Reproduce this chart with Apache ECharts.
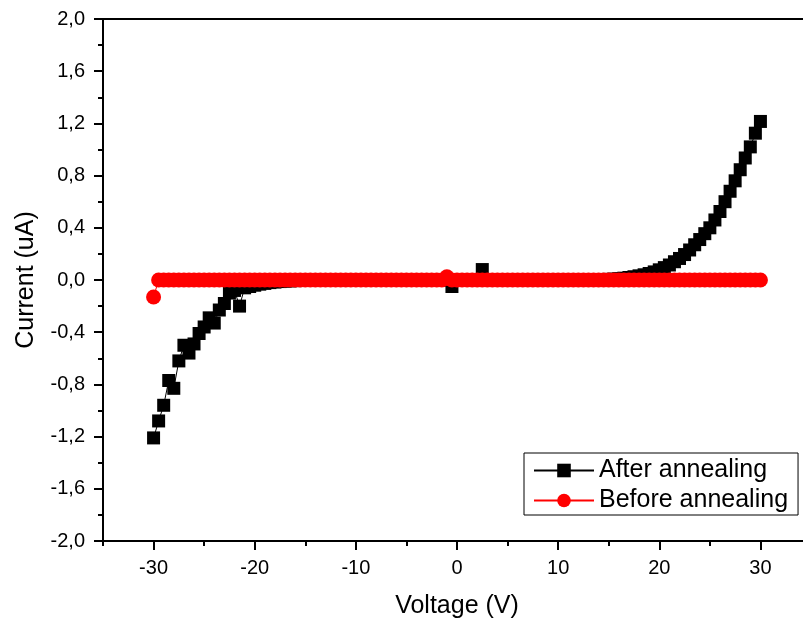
<!DOCTYPE html>
<html>
<head>
<meta charset="utf-8">
<script src="https://cdn.jsdelivr.net/npm/echarts@6/dist/echarts.min.js"></script>
<style>
  html, body { margin: 0; padding: 0; background: #fff; overflow: hidden; }
  #main { width: 811px; height: 627px; }
</style>
</head>
<body>
<div id="main"></div>
<script>
// voltage sweep (V)
const voltage = [
  -30, -29.5, -29, -28.5, -28, -27.5, -27, -26.5, -26, -25.5,
  -25, -24.5, -24, -23.5, -23, -22.5, -22, -21.5, -21, -20.5,
  -20, -19.5, -19, -18.5, -18, -17.5, -17, -16.5, -16, -15.5,
  -15, -14.5, -14, -13.5, -13, -12.5, -12, -11.5, -11, -10.5,
  -10, -9.5, -9, -8.5, -8, -7.5, -7, -6.5, -6, -5.5,
  -5, -4.5, -4, -3.5, -3, -2.5, -2, -1.5, -1, -0.5,
  0, 0.5, 1, 1.5, 2, 2.5, 3, 3.5, 4, 4.5,
  5, 5.5, 6, 6.5, 7, 7.5, 8, 8.5, 9, 9.5,
  10, 10.5, 11, 11.5, 12, 12.5, 13, 13.5, 14, 14.5,
  15, 15.5, 16, 16.5, 17, 17.5, 18, 18.5, 19, 19.5,
  20, 20.5, 21, 21.5, 22, 22.5, 23, 23.5, 24, 24.5,
  25, 25.5, 26, 26.5, 27, 27.5, 28, 28.5, 29, 29.5,
  30
];

// current (uA) after annealing
const afterAnnealing = [
  -1.21, -1.08, -0.96, -0.77, -0.83, -0.62, -0.50, -0.56, -0.49, -0.41,
  -0.36, -0.29, -0.33, -0.23, -0.18, -0.10, -0.08, -0.20, -0.06, -0.05,
  -0.04, -0.032, -0.026, -0.02, -0.016, -0.012, -0.009, -0.007, -0.005, -0.004,
  -0.003, -0.002, -0.002, -0.001, -0.001, -0.001, 0, 0, 0, 0,
  0, 0, 0, 0, 0, 0, 0, 0, 0, 0,
  0, 0, 0, 0, 0, 0, 0, 0, 0, -0.05,
  0, 0, 0, 0, 0, 0.08, 0, 0, 0, 0,
  0, 0, 0, 0, 0, 0, 0, 0, 0, 0,
  0, 0.001, 0.001, 0.001, 0.001, 0.002, 0.002, 0.002, 0.003, 0.004,
  0.005, 0.007, 0.01, 0.014, 0.019, 0.025, 0.032, 0.04, 0.05, 0.062,
  0.078, 0.095, 0.115, 0.14, 0.165, 0.195, 0.23, 0.27, 0.31, 0.355,
  0.40, 0.46, 0.525, 0.60, 0.68, 0.76, 0.845, 0.935, 1.02, 1.125,
  1.215
];

// current (uA) before annealing
const beforeAnnealing = [
  -0.13, 0, 0, 0, 0, 0, 0, 0, 0, 0,
  0, 0, 0, 0, 0, 0, 0, 0, 0, 0,
  0, 0, 0, 0, 0, 0, 0, 0, 0, 0,
  0, 0, 0, 0, 0, 0, 0, 0, 0, 0,
  0, 0, 0, 0, 0, 0, 0, 0, 0, 0,
  0, 0, 0, 0, 0, 0, 0, 0, 0.025, 0,
  0, 0, 0, 0, 0, 0, 0, 0, 0, 0,
  0, 0, 0, 0, 0, 0, 0, 0, 0, 0,
  0, 0, 0, 0, 0, 0, 0, 0, 0, 0,
  0, 0, 0, 0, 0, 0, 0, 0, 0, 0,
  0, 0, 0, 0, 0, 0, 0, 0, 0, 0,
  0, 0, 0, 0, 0, 0, 0, 0, 0, 0,
  0
];

const xMajorTicks = [-30, -20, -10, 0, 10, 20, 30];
const xMinorTicks = [-35, -25, -15, -5, 5, 15, 25, 35];

const FONT = "'Liberation Sans', Arial, sans-serif";

function pairs(xs, ys) {
  return xs.map((x, i) => [x, ys[i]]);
}

const chart = echarts.init(document.getElementById('main'));

chart.setOption({
  animation: false,
  backgroundColor: '#fff',
  textStyle: { fontFamily: FONT },
  // plot box runs past the right edge of the window, as in the original
  grid: { left: 103, top: 19, width: 708, height: 522, containLabel: false },
  legend: {
    orient: 'vertical',
    left: 524,
    top: 453,
    padding: [5, 10, 2, 9],
    itemWidth: 60,
    itemHeight: 17,
    itemGap: 5,
    borderColor: '#000',
    borderWidth: 1,
    textStyle: { fontSize: 25, color: '#000', fontFamily: FONT },
    data: ['After annealing', 'Before annealing']
  },
  xAxis: [
    {
      type: 'value', min: -35, max: 35, position: 'bottom',
      name: 'Voltage (V)', nameLocation: 'middle', nameGap: 53,
      nameTextStyle: { fontSize: 25, color: '#000', fontFamily: FONT },
      axisLine: { onZero: false, lineStyle: { color: '#000', width: 2 } },
      axisTick: { customValues: xMajorTicks, length: 9, lineStyle: { color: '#000', width: 2 } },
      axisLabel: { customValues: xMajorTicks, fontSize: 20, color: '#000', margin: 17, fontFamily: FONT },
      splitLine: { show: false }
    },
    {
      type: 'value', min: -35, max: 35, position: 'bottom',
      axisLine: { show: false, onZero: false },
      axisTick: { customValues: xMinorTicks, length: 5, lineStyle: { color: '#000', width: 2 } },
      axisLabel: { show: false },
      splitLine: { show: false }
    },
    {
      type: 'value', min: -35, max: 35, position: 'top',
      axisLine: { onZero: false, lineStyle: { color: '#000', width: 2 } },
      axisTick: { show: false },
      axisLabel: { show: false },
      splitLine: { show: false }
    }
  ],
  yAxis: {
    type: 'value', min: -2, max: 2, interval: 0.4,
    name: 'Current (uA)', nameLocation: 'middle', nameGap: 64,
    nameTextStyle: { fontSize: 25, color: '#000', fontFamily: FONT },
    axisLine: { onZero: false, lineStyle: { color: '#000', width: 2 } },
    axisTick: { length: 9, lineStyle: { color: '#000', width: 2 } },
    minorTick: { show: true, splitNumber: 2, length: 5, lineStyle: { color: '#000', width: 2 } },
    axisLabel: {
      fontSize: 20, color: '#000', margin: 18, fontFamily: FONT,
      formatter: v => v.toFixed(1).replace('.', ',')
    },
    splitLine: { show: false }
  },
  series: [
    {
      name: 'After annealing',
      type: 'line',
      xAxisIndex: 0,
      data: pairs(voltage, afterAnnealing),
      symbol: 'rect',
      symbolSize: 13,
      itemStyle: { color: '#000' },
      lineStyle: { color: '#000', width: 1 },
      clip: false
    },
    {
      name: 'Before annealing',
      type: 'line',
      xAxisIndex: 0,
      data: pairs(voltage, beforeAnnealing),
      symbol: 'circle',
      symbolSize: 15,
      itemStyle: { color: '#ff0000' },
      lineStyle: { color: '#ff0000', width: 1 },
      clip: false
    }
  ]
});
</script>
</body>
</html>
